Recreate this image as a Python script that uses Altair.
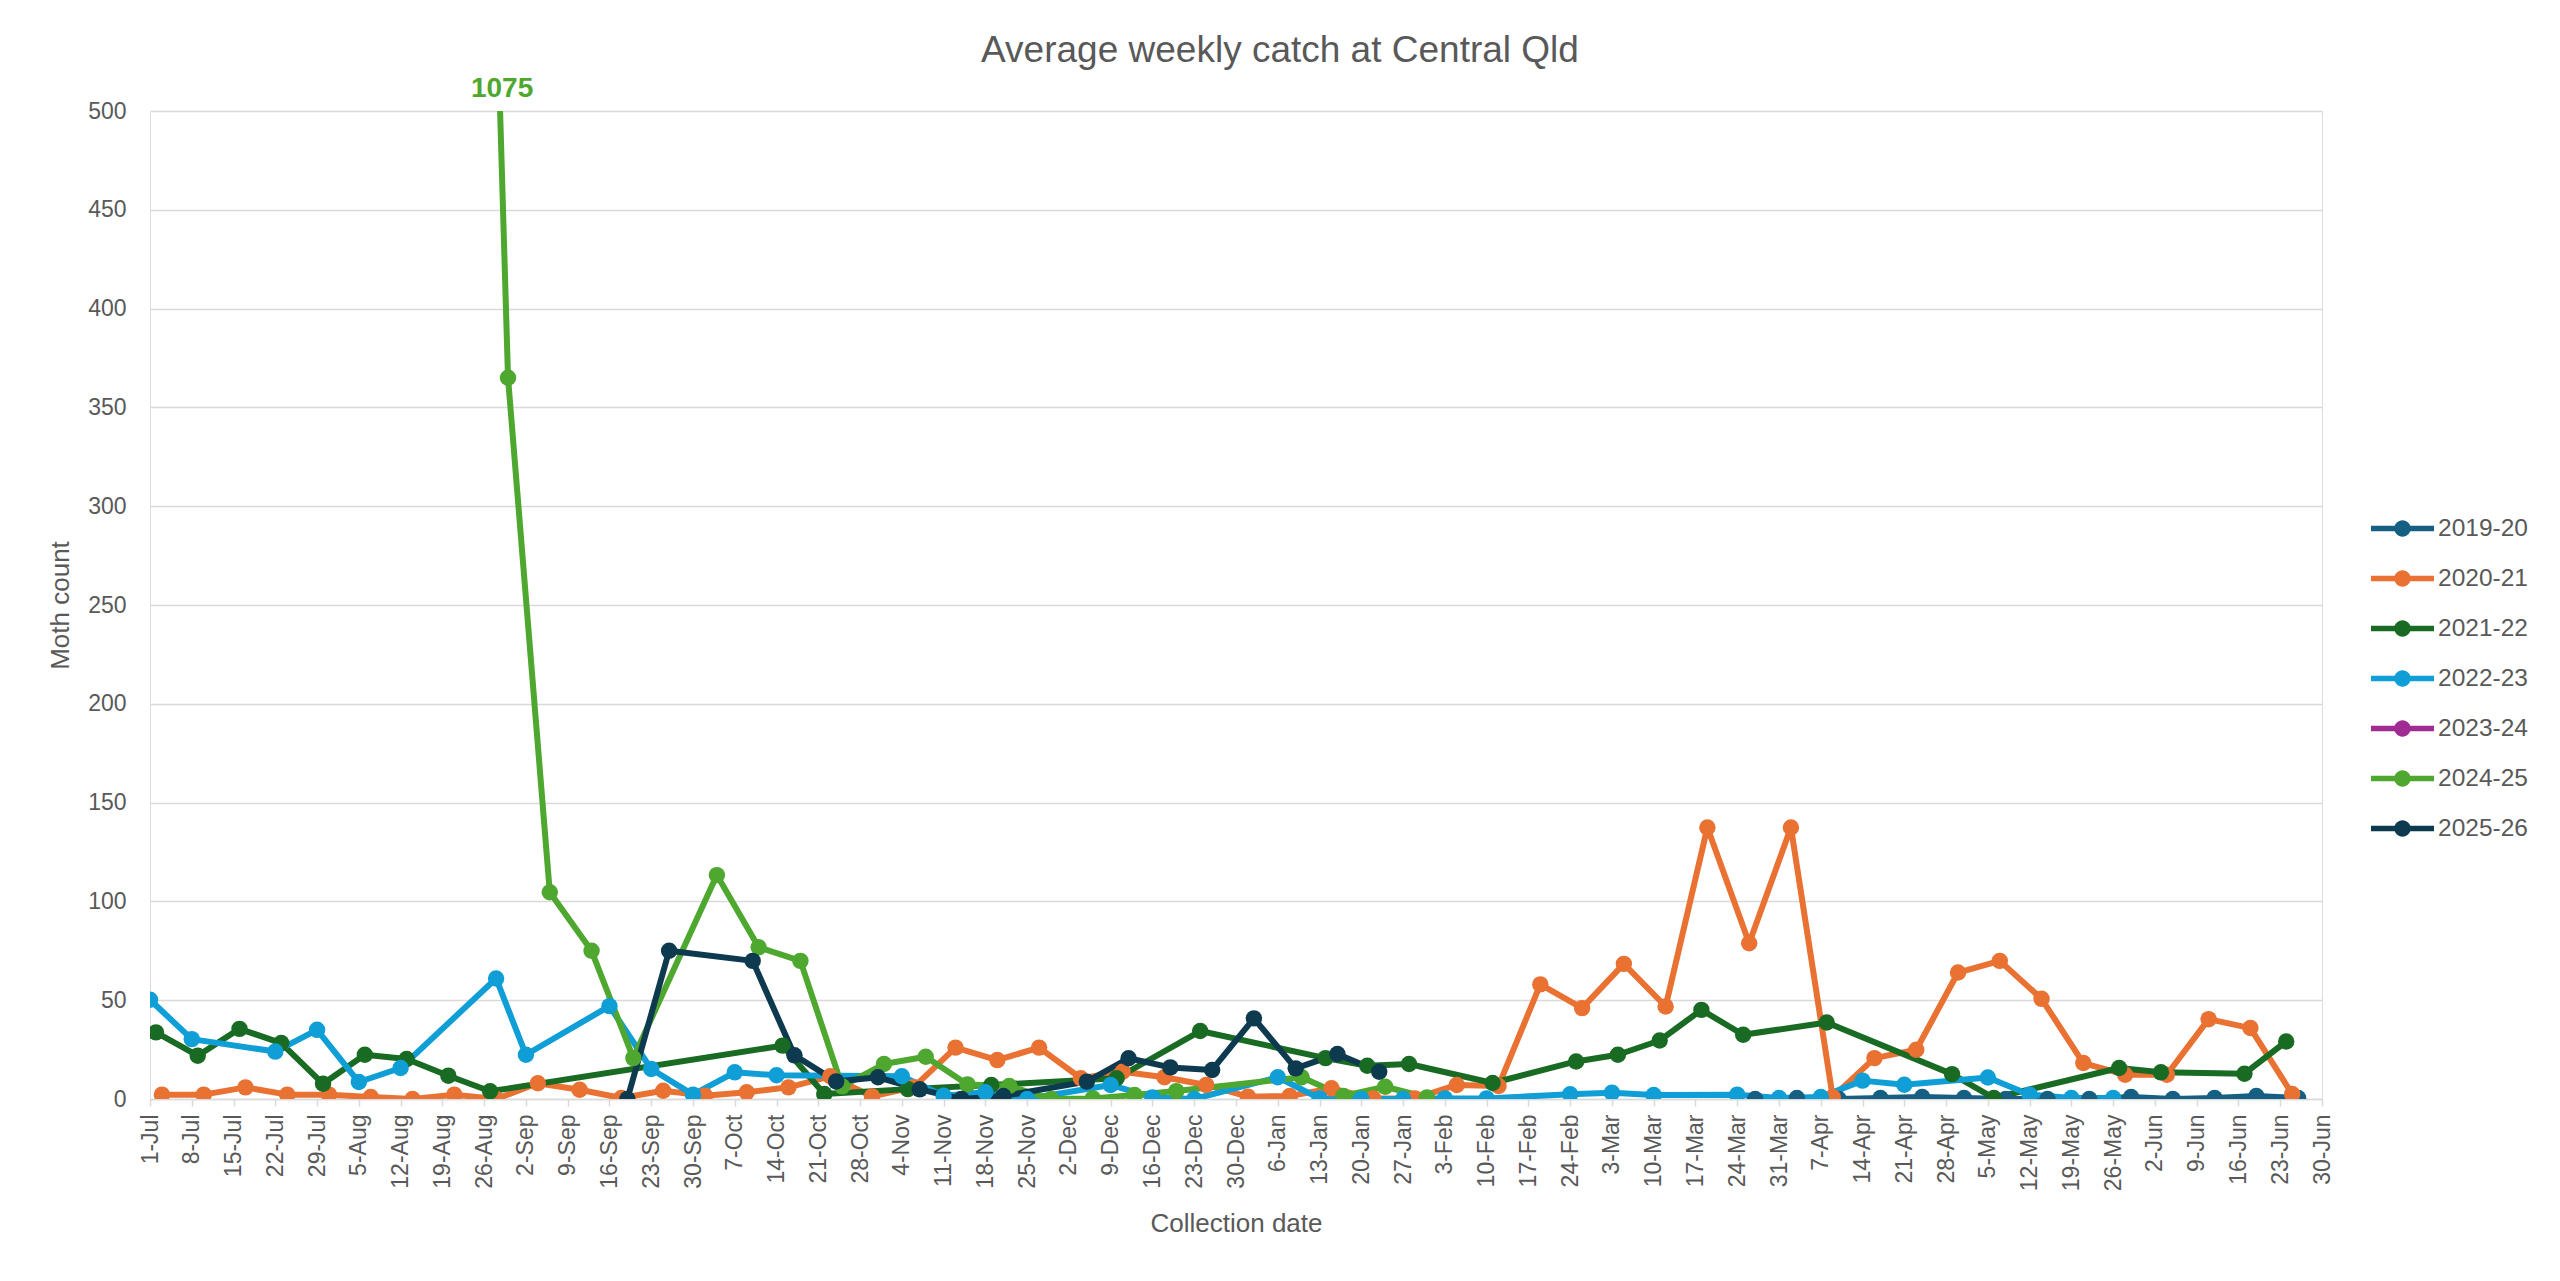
import altair as alt
import pandas as pd
from datetime import datetime, timezone

SEASONS = ["2019-20", "2020-21", "2021-22", "2022-23", "2023-24", "2024-25", "2025-26"]
COLORS = ["#156082", "#E97132", "#196B24", "#0F9ED5", "#A02B93", "#4EA72E", "#0D3A4E"]

TICK_LABELS = [
    "1-Jul", "8-Jul", "15-Jul", "22-Jul", "29-Jul", "5-Aug", "12-Aug", "19-Aug", "26-Aug",
    "2-Sep", "9-Sep", "16-Sep", "23-Sep", "30-Sep", "7-Oct", "14-Oct", "21-Oct", "28-Oct",
    "4-Nov", "11-Nov", "18-Nov", "25-Nov", "2-Dec", "9-Dec", "16-Dec", "23-Dec", "30-Dec",
    "6-Jan", "13-Jan", "20-Jan", "27-Jan", "3-Feb", "10-Feb", "17-Feb", "24-Feb", "3-Mar",
    "10-Mar", "17-Mar", "24-Mar", "31-Mar", "7-Apr", "14-Apr", "21-Apr", "28-Apr", "5-May",
    "12-May", "19-May", "26-May", "2-Jun", "9-Jun", "16-Jun", "23-Jun", "30-Jun",
]

# 2019-20
dates_1920 = ["27-Mar", "3-Apr", "10-Apr", "17-Apr", "24-Apr", "1-May", "8-May", "15-May",
              "22-May", "29-May", "5-Jun", "12-Jun", "19-Jun", "26-Jun"]
vals_1920 = [0, 0.5, 0, 0.5, 1, 0.5, 0, 0, 0, 1, 0, 0.5, 1.5, 0.5]

# 2020-21
dates_2021 = ["3-Jul", "10-Jul", "17-Jul", "24-Jul", "31-Jul", "7-Aug", "14-Aug", "21-Aug",
              "28-Aug", "4-Sep", "11-Sep", "18-Sep", "25-Sep", "2-Oct", "9-Oct", "16-Oct",
              "23-Oct", "30-Oct", "6-Nov", "13-Nov", "20-Nov", "27-Nov", "4-Dec", "11-Dec",
              "18-Dec", "25-Dec", "1-Jan", "8-Jan", "15-Jan", "22-Jan", "29-Jan", "5-Feb",
              "12-Feb", "19-Feb", "26-Feb", "5-Mar", "12-Mar", "19-Mar", "26-Mar", "2-Apr",
              "9-Apr", "16-Apr", "23-Apr", "30-Apr", "7-May", "14-May", "21-May", "28-May",
              "4-Jun", "11-Jun", "18-Jun", "25-Jun"]
vals_2021 = [2.2, 2.2, 5.9, 2.2, 2.2, 1, 0, 2.2, 0, 8, 4.7, 0.5, 4.2, 1.7, 3.4, 5.9,
             11.5, 1.3, 6, 26, 19.7, 26, 10.5, 13.8, 11, 7.1, 1.2, 1.5, 5.4, 0.3, 0.3, 7.1,
             6.6, 58, 46, 68.4, 46.8, 137.4, 78.8, 137.4, 1, 20.7, 24.9, 64, 69.9, 50.7,
             18.2, 12.3, 12.3, 40.4, 35.9, 2.5]

# 2021-22
dates_2122 = ["2-Jul", "9-Jul", "16-Jul", "23-Jul", "30-Jul", "6-Aug", "13-Aug", "20-Aug",
              "27-Aug", "15-Oct", "22-Oct", "5-Nov", "19-Nov", "10-Dec", "24-Dec", "14-Jan",
              "21-Jan", "28-Jan", "11-Feb", "25-Feb", "4-Mar", "11-Mar", "18-Mar", "25-Mar",
              "8-Apr", "29-Apr", "6-May", "27-May", "3-Jun", "17-Jun", "24-Jun"]
vals_2122 = [33.7, 21.9, 35.5, 28.3, 7.7, 22.4, 20.2, 11.8, 3.9, 27, 2.5, 5, 7.1, 10.5,
             34.4, 20.7, 16.8, 17.7, 8.1, 19, 22.4, 29.6, 45.1, 32.5, 38.7, 12.6, 0.5,
             15.7, 13.5, 12.8, 29.1]

# 2022-23
dates_2223 = ["1-Jul", "8-Jul", "22-Jul", "29-Jul", "5-Aug", "12-Aug", "28-Aug", "2-Sep",
              "16-Sep", "23-Sep", "30-Sep", "7-Oct", "14-Oct", "4-Nov", "11-Nov", "18-Nov",
              "25-Nov", "9-Dec", "16-Dec", "23-Dec", "6-Jan", "13-Jan", "20-Jan", "27-Jan",
              "3-Feb", "10-Feb", "24-Feb", "3-Mar", "10-Mar", "24-Mar", "31-Mar", "7-Apr",
              "14-Apr", "21-Apr", "5-May", "12-May", "19-May", "26-May"]
vals_2223 = [50.2, 30.3, 24, 35, 8.6, 15.7, 61, 22.4, 47, 15.2, 2.2, 13.5, 12, 11.5, 1.7,
             3.4, 0, 7.1, 0.8, 0, 11, 0.3, 0, 0, 0.3, 0.3, 2.4, 3.2, 2, 2.2, 0.5, 1, 9.3,
             7.2, 10.9, 2.2, 0.5, 0.5]

# 2023-24 (no values shown)
dates_2324 = []
vals_2324 = []

# 2024-25
dates_2425 = ["23-Aug", "30-Aug", "6-Sep", "13-Sep", "20-Sep", "4-Oct", "11-Oct", "18-Oct",
              "25-Oct", "1-Nov", "8-Nov", "15-Nov", "22-Nov", "29-Nov", "6-Dec", "13-Dec",
              "20-Dec", "10-Jan", "17-Jan", "24-Jan", "31-Jan"]
vals_2425 = [1075, 365, 104.6, 75, 20.7, 113.3, 76.8, 69.9, 6.4, 17.7, 21.4, 7.4, 6.6, 0,
             0.3, 2, 4, 11, 1.5, 6.2, 0.8]

# 2025-26
dates_2526 = ["19-Sep", "26-Sep", "10-Oct", "17-Oct", "24-Oct", "31-Oct", "7-Nov", "14-Nov",
              "21-Nov", "5-Dec", "12-Dec", "19-Dec", "26-Dec", "2-Jan", "9-Jan", "16-Jan",
              "23-Jan"]
vals_2526 = [0, 75, 69.9, 22.1, 8.9, 11, 4.9, 0, 1.5, 8.8, 20.6, 16, 14.7, 40.8, 15.5,
             22.8, 13.8]

# data label for the off-scale peak
peak_label_text = ["1075"]
peak_label_date = ["29-Aug"]
peak_label_value = [500]

MONTHS = {"Jan": 1, "Feb": 2, "Mar": 3, "Apr": 4, "May": 5, "Jun": 6,
          "Jul": 7, "Aug": 8, "Sep": 9, "Oct": 10, "Nov": 11, "Dec": 12}


def parts(s):
    d, m = s.split("-")
    mo = MONTHS[m]
    yr = 2022 if mo >= 7 else 2023
    return yr, mo, int(d)


def iso(s):
    yr, mo, d = parts(s)
    return f"{yr}-{mo:02d}-{d:02d}"


def ms(s):
    yr, mo, d = parts(s)
    return int(datetime(yr, mo, d, tzinfo=timezone.utc).timestamp() * 1000)


series = [
    ("2019-20", dates_1920, vals_1920),
    ("2020-21", dates_2021, vals_2021),
    ("2021-22", dates_2122, vals_2122),
    ("2022-23", dates_2223, vals_2223),
    ("2023-24", dates_2324, vals_2324),
    ("2024-25", dates_2425, vals_2425),
    ("2025-26", dates_2526, vals_2526),
]
rows = []
for name, ds, vs in series:
    for d, v in zip(ds, vs):
        rows.append({"season": name, "line_season": name, "date": iso(d), "value": v})
df = pd.DataFrame(rows)

lab_df = pd.DataFrame({
    "date": [iso(d) for d in peak_label_date],
    "value": peak_label_value,
    "label": peak_label_text,
})

tick_ms = [ms(t) for t in TICK_LABELS]
FONT = "Liberation Sans"
TXT = "#595959"
GRID = "#D9D9D9"

W, H = 2172, 988

x_enc = alt.X(
    "date:T",
    scale=alt.Scale(type="utc", domain=[tick_ms[0], tick_ms[-1]]),
    axis=alt.Axis(
        values=tick_ms,
        labelExpr="utcFormat(datum.value, '%-d-%b')",
        labelAngle=-90,
        labelFontSize=23,
        labelColor=TXT,
        labelFont=FONT,
        labelPadding=8,
        labelOverlap=False,
        labelFlush=False,
        tickColor=GRID,
        tickSize=7,
        tickWidth=1.5,
        domainColor=GRID,
        domainWidth=1.5,
        grid=False,
        title="Collection date",
        titleFontSize=26,
        titleFont=FONT,
        titleColor=TXT,
        titleFontWeight="normal",
        titlePadding=20,
    ),
)
y_enc = alt.Y(
    "value:Q",
    scale=alt.Scale(domain=[0, 500], nice=False),
    axis=alt.Axis(
        values=list(range(0, 501, 50)),
        labelFontSize=23,
        labelColor=TXT,
        labelFont=FONT,
        labelPadding=24,
        ticks=False,
        domain=False,
        grid=True,
        gridColor=GRID,
        gridWidth=1.5,
        title="Moth count",
        titleFontSize=26,
        titleFont=FONT,
        titleColor=TXT,
        titleFontWeight="normal",
        titlePadding=14,
    ),
)

SYMBOL = ("M-1,-0.085 L-0.2,-0.085 L-0.2,0.085 L-1,0.085 Z "
          "M0.2,-0.085 L1,-0.085 L1,0.085 L0.2,0.085 Z "
          "M-0.26,0 A0.26,0.26 0 1,1 0.26,0 A0.26,0.26 0 1,1 -0.26,0 Z")

lines = alt.Chart(df).mark_line(
    strokeWidth=6, clip=True, strokeJoin="round", strokeCap="round"
).encode(
    x=x_enc,
    y=y_enc,
    stroke=alt.Stroke("line_season:N", scale=alt.Scale(domain=SEASONS, range=COLORS), legend=None),
)

points = alt.Chart(df).mark_circle(size=270, opacity=1, clip=True).encode(
    x=x_enc,
    y=y_enc,
    color=alt.Color(
        "season:N",
        scale=alt.Scale(domain=SEASONS, range=COLORS),
        legend=alt.Legend(
            title=None,
            orient="none",
            legendX=2221,
            legendY=386,
            symbolType=SYMBOL,
            symbolSize=3969,
            symbolStrokeWidth=0,
            symbolOpacity=1,
            labelFontSize=24.5,
            labelFont=FONT,
            labelColor=TXT,
            labelOffset=4,
            rowPadding=7,
        ),
    ),
)

label = alt.Chart(lab_df).mark_text(
    font=FONT, fontSize=28, fontWeight="bold", color="#4EA72E", dy=-14, baseline="alphabetic"
).encode(
    x=alt.X("date:T"),
    y=alt.Y("value:Q"),
    text="label:N",
)

chart = alt.layer(lines, points, label).resolve_scale(color="independent").properties(
    width=W,
    height=H,
    autosize=alt.AutoSizeParams(type="none"),
    padding={"left": 142, "top": 103, "right": 225, "bottom": 168},
    title=alt.TitleParams(
        "Average weekly catch at Central Qld",
        fontSize=37,
        font=FONT,
        fontWeight="normal",
        color=TXT,
        anchor="middle",
        frame="group",
        dx=44,
        offset=5,
    ),
).configure_view(stroke=None).configure(background="white")

chart.save("out.html", embed_options={"renderer": "svg", "actions": False})
